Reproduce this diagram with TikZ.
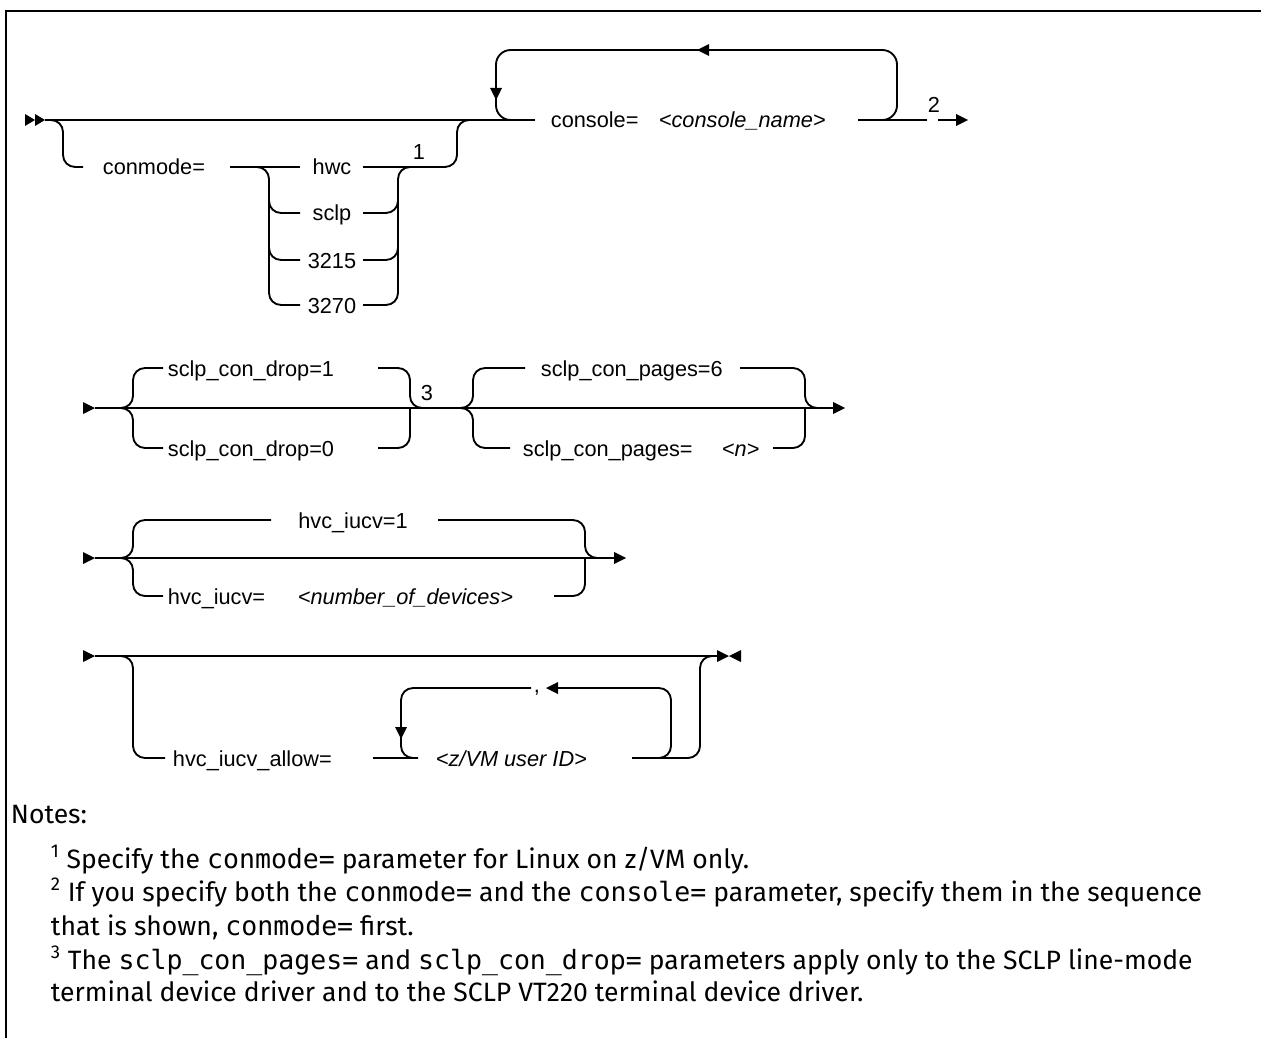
\documentclass[tikz,border=0pt]{standalone}
\usepackage{fontspec}
\newfontfamily\labfont{Liberation Sans}
\newfontfamily\notefont{Fira Sans}
\newfontfamily\codefont{DejaVu Sans Mono}
\newcommand\cod[1]{{\codefont #1}}
\begin{document}
\begin{tikzpicture}[x=0.75pt,y=-0.75pt,line width=1.4pt,
  rc/.style={rounded corners=9pt},
  rcl/.style={rounded corners=11pt},
  lab/.style={font=\labfont\fontsize{16.3}{19}\selectfont,inner sep=0pt,anchor=base west},
  labc/.style={font=\labfont\fontsize{16.3}{19}\selectfont,inner sep=0pt,anchor=base},
  labi/.style={font=\labfont\itshape\fontsize{16.3}{19}\selectfont,inner sep=0pt,anchor=base west},
  note/.style={font=\notefont\fontsize{19.9}{23}\selectfont,inner sep=0pt,anchor=base west},
  tr/.pic={\fill (-6,-6)--(6,0)--(-6,6)--cycle;},
  tl/.pic={\fill (6,-6)--(-6,0)--(6,6)--cycle;},
  td/.pic={\fill (-6,-6)--(0,6)--(6,-6)--cycle;},
  sr/.pic={\fill (-5,-6)--(5,0)--(-5,6)--cycle;}]
\useasboundingbox (0,0) rectangle (1261,1038);
\fill[white] (0,0) rectangle (1261,1038);
% frame
\draw[line width=2pt] (6,1040) -- (6,11) -- (1262,11);

% ---------------- row 1 ----------------
\pic at (30,120) {sr};
\pic at (40,120) {sr};
\draw (45,120) -- (535,120);
\node[lab] (conmode) at (102,175) {conmode=};
\draw[rc] (50,120) -| (63,167) -- (83,167);
\draw (230,167) -- (300,167);
\node[labc] (hwc) at (332,175) {hwc};
\node[labc] (sclp) at (332,221) {sclp};
\node[labc] (m3215) at (332,268) {3215};
\node[labc] (m3270) at (332,313) {3270};
\draw[rc] (258,167) -| (269,305) -- (300,305);
\draw[rc] (269,195) |- (300,213);
\draw[rc] (269,242) |- (300,260);
\draw[rc] (363,305) -| (398,167) -- (412,167);
\draw[rc] (363,213) -| (398,195);
\draw[rc] (363,260) -| (398,242);
\draw[rc] (363,167) -| (457,120) -- (470,120);
\node[labc] (n1) at (419,160) {1};
% console loop
\node[lab] (console) at (550,128) {console=};
\node[labi] (cname) at (658,128) {<console\_name>};
\draw[rcl] (884,120) -| (897,50) -| (496,120) -- (510,120);
\pic at (703,50) {tl};
\pic at (496,94) {td};
\draw (858,120) -- (927,120);
\node[labc] (n2) at (934,113) {2};
\draw (938,120) -- (957,120);
\pic at (962,120) {tr};

% ---------------- row 2 ----------------
\pic at (89,408) {tr};
\draw (95,408) -- (839,408);
\pic at (839,408) {tr};
\draw[rc] (124,408) -| (133,368) -- (163,368);
\draw[rc] (124,408) -| (133,448) -- (163,448);
\node[lab] (drop1) at (167,376) {sclp\_con\_drop=1};
\node[lab] (drop0) at (167,456) {sclp\_con\_drop=0};
\draw[rc] (378,368) -| (410,408) -- (420,408);
\draw[rc] (378,448) -| (410,408);
\node[labc] (n3) at (427,400) {3};
\draw[rc] (464,408) -| (473,368) -- (525,368);
\draw[rc] (464,408) -| (473,448) -- (510,448);
\node[lab] (pages6) at (540,376) {sclp\_con\_pages=6};
\node[lab] (pagesn) at (522,456) {sclp\_con\_pages=};
\node[labi] (nval) at (721,456) {<n>};
\draw[rc] (740,368) -| (805,408) -- (815,408);
\draw[rc] (773,448) -| (805,408);

% ---------------- row 3 ----------------
\pic at (89,558) {tr};
\draw (95,558) -- (620,558);
\pic at (620,558) {tr};
\draw[rc] (124,558) -| (133,520) -- (271,520);
\draw[rc] (124,558) -| (133,596) -- (163,596);
\node[labc] (iucv1) at (353,528) {hvc\_iucv=1};
\draw[rc] (438,520) -| (585,558) -- (595,558);
\draw[rc] (554,596) -| (585,558);
\node[lab] (iucvn) at (167,604) {hvc\_iucv=};
\node[labi] (ndev) at (297,604) {<number\_of\_devices>};

% ---------------- row 4 ----------------
\pic at (89,656) {tr};
\draw (95,656) -- (717,656);
\pic at (723,656) {tr};
\pic at (735,656) {tl};
\draw[rc] (124,656) -| (133,758) -- (165,758);
\node[lab] (allow) at (172,766) {hvc\_iucv\_allow=};
\draw (373,758) -- (418,758);
\draw[rc] (531,688) -| (401,758) -- (418,758);
\pic at (401,733) {td};
\node[labc] (comma) at (537,692) {,};
\pic at (552,688) {tl};
\draw[rc] (660,758) -| (671,688) -- (558,688);
\node[labi] (uid) at (435,766) {<z/VM user ID>};
\draw[rc] (632,758) -| (700,656) -- (712,656);

% ---------------- notes ----------------
\node[note] (notes) at (10,823) {Notes:};
\node[note] (l1) at (50,868) {\textsuperscript{1} Specify the \cod{conmode=} parameter for Linux on z/VM only.};
\node[note] (l2) at (50,901) {\textsuperscript{2} If you specify both the \cod{conmode=} and the \cod{console=} parameter, specify them in the sequence};
\node[note] (l3) at (50,935) {that is shown, \cod{conmode=} first.};
\node[note] (l4) at (50,969) {\textsuperscript{3} The \cod{sclp\_con\_pages=} and \cod{sclp\_con\_drop=} parameters apply only to the SCLP line-mode};
\node[note] (l5) at (50,1001) {terminal device driver and to the SCLP VT220 terminal device driver.};
\end{tikzpicture}
\end{document}
